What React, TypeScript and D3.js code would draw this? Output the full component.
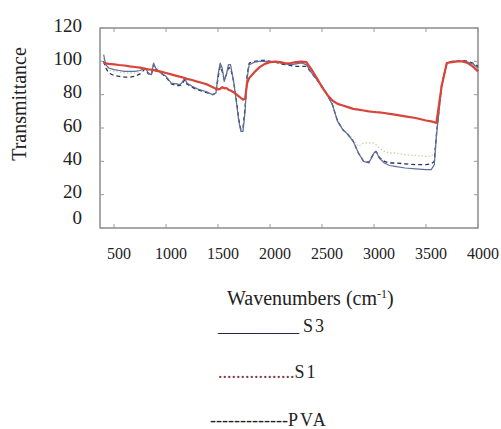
import React, { useEffect, useRef } from 'react';
import * as d3 from 'd3';

// wavenumber grid (cm-1) shared by all spectra
const wavenumbers = [
  400, 420, 450, 500, 550, 600, 650, 700, 750, 800, 830, 860, 880, 900, 950,
  1000, 1050, 1100, 1130, 1150, 1180, 1200, 1250, 1300, 1350, 1400, 1450, 1480,
  1500, 1520, 1540, 1560, 1580, 1600, 1620, 1650, 1680, 1700, 1720, 1740, 1760,
  1780, 1800, 1850, 1900, 1950, 2000, 2050, 2100, 2150, 2200, 2250, 2300, 2350,
  2400, 2450, 2500, 2550, 2600, 2650, 2700, 2750, 2800, 2850, 2900, 2950, 3000,
  3020, 3050, 3100, 3150, 3200, 3300, 3400, 3500, 3550, 3580, 3600, 3650, 3700,
  3750, 3800, 3850, 3900, 3950, 4000,
];

const s3 = [
  104, 98, 96, 95, 94.5, 94, 94, 94, 94.5, 96, 93, 92, 99, 96, 93,
  91, 87, 86.5, 86, 87, 90, 87, 85, 83.5, 82.5, 81.5, 80, 81,
  92, 99, 96, 88, 92, 98, 98, 88, 74, 64, 58, 58, 70,
  90, 98, 99.5, 100, 100, 100, 99.5, 99, 98.5, 98, 98.5, 99, 98,
  93, 89, 85, 80, 74, 64, 59, 56, 52, 45, 40, 39, 45,
  46, 42, 39, 37.5, 37, 36, 35.5, 35, 35, 38, 55, 85, 99,
  100, 100, 100, 99.5, 98.5, 96,
];

const pva = [
  100, 96, 93, 91.5, 91, 90.5, 90.5, 91, 92.5, 95.5, 92.5, 92, 98, 95, 93,
  90.5, 86.5, 85.5, 85.5, 86, 89, 86.5, 84.5, 83, 82, 81, 80, 81,
  90, 97, 94, 89, 92, 96, 96, 88, 75, 65, 59, 60, 72,
  92, 99, 100, 100.5, 100.5, 100, 99.5, 98.5, 98, 97.5, 97, 97, 97,
  93, 89, 85, 80, 74, 64, 59, 56, 52, 45, 40, 39.5, 45,
  46, 42.5, 40, 39, 39, 38.5, 38, 38, 38.5, 40, 56, 86, 99,
  100, 100, 100.5, 100, 99, 97,
];

const s1 = [
  99, 98.8, 98.5, 98.2, 97.8, 97.5, 97, 96.6, 96.2, 95.5, 95.2, 95, 94.7, 94.4, 93.8,
  93, 92.2, 91.3, 90.8, 90.5, 90, 89.5, 88.8, 87.8, 87, 86, 84.5, 83.5,
  83.2, 83.5, 84.5, 83.8, 84, 83, 82.5, 81.5, 80, 79, 78, 77, 77.5,
  87, 90, 93.5, 96.5, 98.5, 99.5, 99.8, 99.5, 98.8, 99, 99.5, 99.8, 99.5,
  95, 90, 84.5, 80, 76.5, 74.5, 73.5, 72.5, 71.5, 71, 70.5, 70, 69.6,
  69.5, 69.4, 69, 68.5, 68, 67, 66, 64.5, 64, 63.5, 63, 85, 99,
  99.5, 100, 100, 99, 97, 94,
];

const faint = [
  102, 97, 95, 94, 93.5, 93, 93, 93, 94, 96, 93, 92, 98, 96, 93,
  91, 87, 86.5, 86, 87, 90, 87, 85, 83.5, 82.5, 81.5, 80, 81,
  91, 98, 95, 88, 92, 97, 97, 88, 74, 64, 58, 58, 70,
  90, 98, 99.5, 100, 100, 100, 99.5, 99, 98.5, 98, 98.5, 99, 98,
  93, 89, 85, 80, 74, 64, 59, 57, 53, 49, 51, 51, 51,
  50, 48, 46, 45, 45, 44, 43.5, 43, 43, 45, 55, 85, 99,
  100, 100, 100, 99.5, 98.5, 96,
];

const xTicks = [500, 1000, 1500, 2000, 2500, 3000, 3500, 4000];
const yTicks = [0, 20, 40, 60, 80, 100, 120];

const series = [
  { name: 'faint', values: faint, color: '#cdd3ad', width: 1.3, dash: '1.5,2' },
  { name: 'PVA', values: pva, color: '#2a3350', width: 1.3, dash: '4,3' },
  { name: 'S3', values: s3, color: '#5d6f9c', width: 1.2, dash: null },
  { name: 'S1', values: s1, color: '#d9443a', width: 2.2, dash: null },
];

const SERIF = "'Liberation Serif', 'Times New Roman', serif";

const Chart = () => {
  const svgRef = useRef(null);

  useEffect(() => {
    const W = 501;
    const H = 429;
    const margin = { top: 28, right: 23, bottom: 201, left: 100 };
    const width = W - margin.left - margin.right;
    const height = H - margin.top - margin.bottom;

    const root = d3.select(svgRef.current);
    root.selectAll('*').remove();
    root.attr('width', W).attr('height', H).style('font-family', SERIF);

    const svg = root.append('g')
      .attr('transform', `translate(${margin.left},${margin.top})`);

    const x = d3.scaleLinear().domain([365, 4000]).range([0, width]);
    const y = d3.scaleLinear().domain([0, 120]).range([height, 0]);

    // frame
    svg.append('rect')
      .attr('width', width)
      .attr('height', height)
      .attr('fill', 'none')
      .attr('stroke', '#6f6f6f')
      .attr('stroke-width', 1.2);

    // inward ticks on all four sides
    const tk = svg.append('g').attr('stroke', '#9a9a9a').attr('stroke-width', 1);
    xTicks.forEach(t => {
      tk.append('line').attr('x1', x(t)).attr('x2', x(t)).attr('y1', height).attr('y2', height - 4);
      tk.append('line').attr('x1', x(t)).attr('x2', x(t)).attr('y1', 0).attr('y2', 4);
    });
    yTicks.forEach(t => {
      tk.append('line').attr('x1', 0).attr('x2', 4).attr('y1', y(t)).attr('y2', y(t));
      tk.append('line').attr('x1', width).attr('x2', width - 4).attr('y1', y(t)).attr('y2', y(t));
    });

    // spectra
    const line = d3.line()
      .x((d, i) => x(wavenumbers[i]))
      .y(d => y(d))
      .curve(d3.curveLinear);

    series.forEach(s => {
      svg.append('path')
        .datum(s.values)
        .attr('d', line)
        .attr('fill', 'none')
        .attr('stroke', s.color)
        .attr('stroke-width', s.width)
        .attr('stroke-linejoin', 'round')
        .attr('stroke-dasharray', s.dash);
    });

    // tick labels
    svg.append('g')
      .selectAll('text')
      .data(yTicks)
      .enter().append('text')
      .attr('x', -18)
      .attr('y', d => y(d) - (d === 0 ? 11 : 3))
      .attr('dy', '0.35em')
      .attr('text-anchor', 'end')
      .style('font-size', '19px')
      .style('fill', '#222')
      .text(d => d);

    svg.append('g')
      .selectAll('text')
      .data(xTicks)
      .enter().append('text')
      .attr('x', d => x(d) + 5)
      .attr('y', height + 31)
      .attr('text-anchor', 'middle')
      .style('font-size', '16px')
      .style('fill', '#222')
      .text(d => d);

    // axis titles
    root.append('text')
      .attr('transform', 'translate(26,104) rotate(-90)')
      .attr('text-anchor', 'middle')
      .style('font-size', '20px')
      .style('fill', '#222')
      .text('Transmittance');

    const xt = root.append('text')
      .attr('x', 227)
      .attr('y', 305)
      .style('font-size', '20px')
      .style('fill', '#222');
    xt.append('tspan').text('Wavenumbers (cm');
    xt.append('tspan').attr('dy', -7).style('font-size', '12px').text('-1');
    xt.append('tspan').attr('dy', 7).text(')');

    // typed legend lines
    const leg = root.append('g').style('font-size', '18px');
    const l1 = leg.append('text').attr('x', 218).attr('y', 332);
    l1.append('tspan').style('fill', '#1f2a4a').text('_________');
    l1.append('tspan').attr('dx', 4).style('fill', '#222').style('letter-spacing', '2px').text('S3');

    const l2 = leg.append('text').attr('x', 218).attr('y', 378);
    l2.append('tspan').style('fill', '#7a3545').text('.................');
    l2.append('tspan').style('fill', '#222').style('letter-spacing', '2px').text('S1');

    const l3 = leg.append('text').attr('x', 210).attr('y', 426);
    l3.append('tspan').style('fill', '#222').text('-------------');
    l3.append('tspan').style('fill', '#222').style('letter-spacing', '2px').text('PVA');
  }, []);

  return <svg ref={svgRef} style={{ position: 'absolute', left: 0, top: 0 }}></svg>;
};

export default function App() {
  return <Chart />;
}
